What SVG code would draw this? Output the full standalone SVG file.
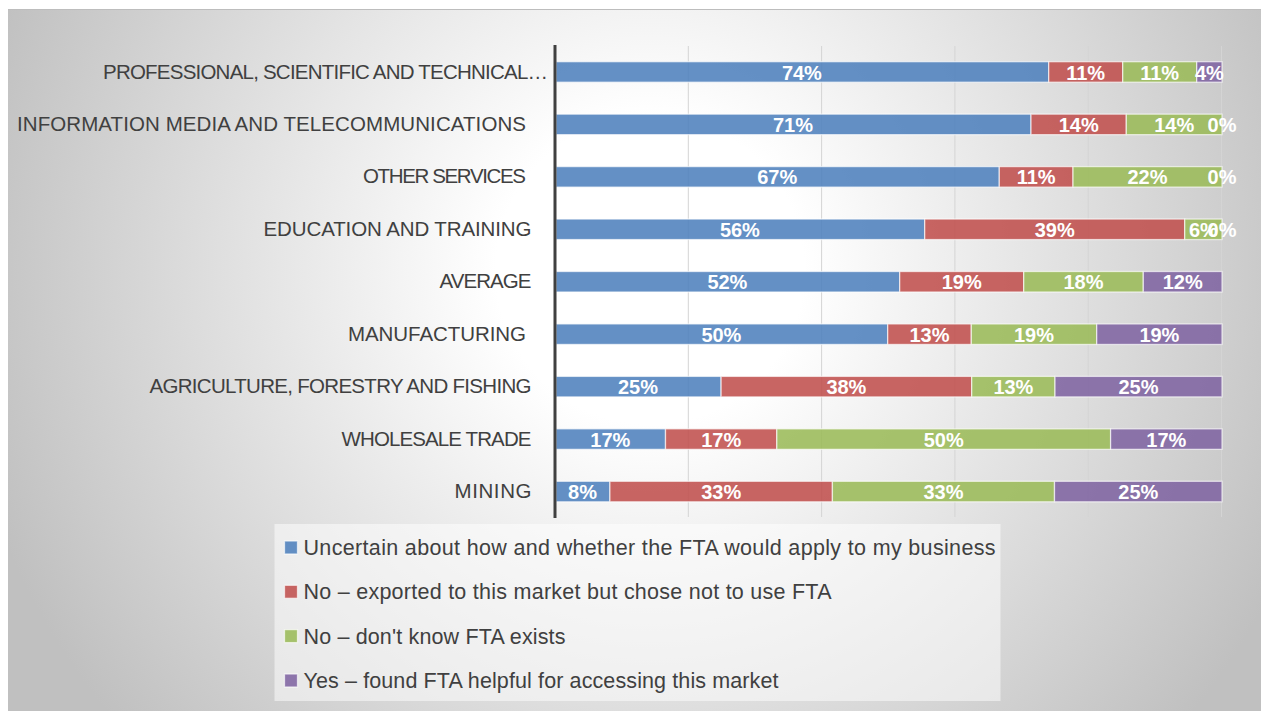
<svg xmlns="http://www.w3.org/2000/svg" width="1261" height="711" viewBox="0 0 1261 711">
<defs>
<radialGradient id="bg" gradientUnits="userSpaceOnUse" cx="650" cy="270" r="700">
<stop offset="0" stop-color="#ffffff"/>
<stop offset="0.22" stop-color="#ffffff"/>
<stop offset="1" stop-color="#c0c0c0"/>
</radialGradient>
<style>
.cat{font-family:"Liberation Sans",Arial,sans-serif;font-size:20.5px;fill:#404040;text-anchor:end}
.val{font-family:"Liberation Sans",Arial,sans-serif;font-size:20px;font-weight:bold;fill:#ffffff;text-anchor:middle}
.leg{font-family:"Liberation Sans",Arial,sans-serif;font-size:21.5px;fill:#404040}
.seg{stroke:#ffffff;stroke-opacity:0.65;stroke-width:1.3;fill-opacity:0.88}
.b{fill:#4f81bd}.r{fill:#c0504d}.g{fill:#9bbb59}.p{fill:#8064a2}
.grid{stroke:#d4d4d4;stroke-width:1}
</style>
</defs>
<rect x="0" y="0" width="1261" height="711" fill="#ffffff"/>
<rect x="8" y="9" width="1253" height="702" fill="url(#bg)"/>
<line x1="8" y1="9.5" x2="1261" y2="9.5" stroke="#bdbdbd" stroke-width="1"/>

<g id="gridlines">
<line class="grid" x1="688.3" y1="46" x2="688.3" y2="517"/>
<line class="grid" x1="821.6" y1="46" x2="821.6" y2="517"/>
<line class="grid" x1="954.9" y1="46" x2="954.9" y2="517"/>
<line class="grid" x1="1088.2" y1="46" x2="1088.2" y2="517"/>
<line class="grid" x1="1221.5" y1="46" x2="1221.5" y2="517"/>
</g>

<g id="row-professional">
<text class="cat" x="548" y="78.5" textLength="445">PROFESSIONAL, SCIENTIFIC AND TECHNICAL…</text>
<rect class="seg b" x="556" y="61.7" width="492.7" height="20.5"/>
<rect class="seg r" x="1048.7" y="61.7" width="74" height="20.5"/>
<rect class="seg g" x="1122.7" y="61.7" width="74" height="20.5"/>
<rect class="seg p" x="1196.7" y="61.7" width="25.3" height="20.5"/>
<text class="val" x="801.9" y="79.5">74%</text>
<text class="val" x="1085.7" y="79.5">11%</text>
<text class="val" x="1159.7" y="79.5">11%</text>
<text class="val" x="1209.4" y="79.5">4%</text>
</g>

<g id="row-information">
<text class="cat" x="526" y="130.9" textLength="509">INFORMATION MEDIA AND TELECOMMUNICATIONS</text>
<rect class="seg b" x="556" y="114.15" width="475" height="20.5"/>
<rect class="seg r" x="1031" y="114.15" width="95.3" height="20.5"/>
<rect class="seg g" x="1126.3" y="114.15" width="95.7" height="20.5"/>
<text class="val" x="793" y="131.9">71%</text>
<text class="val" x="1078.7" y="131.9">14%</text>
<text class="val" x="1174.2" y="131.9">14%</text>
<text class="val" x="1222" y="131.9">0%</text>
</g>

<g id="row-other">
<text class="cat" x="526" y="183.35" textLength="163">OTHER SERVICES</text>
<rect class="seg b" x="556" y="166.6" width="443.3" height="20.5"/>
<rect class="seg r" x="999.3" y="166.6" width="73.7" height="20.5"/>
<rect class="seg g" x="1073" y="166.6" width="149" height="20.5"/>
<text class="val" x="777.2" y="184.35">67%</text>
<text class="val" x="1036.2" y="184.35">11%</text>
<text class="val" x="1147.5" y="184.35">22%</text>
<text class="val" x="1222" y="184.35">0%</text>
</g>

<g id="row-education">
<text class="cat" x="531.5" y="235.8" textLength="268">EDUCATION AND TRAINING</text>
<rect class="seg b" x="556" y="219.05" width="368.7" height="20.5"/>
<rect class="seg r" x="924.7" y="219.05" width="260" height="20.5"/>
<rect class="seg g" x="1184.7" y="219.05" width="37.3" height="20.5"/>
<text class="val" x="739.9" y="236.8">56%</text>
<text class="val" x="1054.7" y="236.8">39%</text>
<text class="val" x="1203.4" y="236.8">6%</text>
<text class="val" x="1222" y="236.8">0%</text>
</g>

<g id="row-average">
<text class="cat" x="531.5" y="288.25" textLength="92">AVERAGE</text>
<rect class="seg b" x="556" y="271.5" width="343.7" height="20.5"/>
<rect class="seg r" x="899.7" y="271.5" width="124" height="20.5"/>
<rect class="seg g" x="1023.7" y="271.5" width="119.6" height="20.5"/>
<rect class="seg p" x="1143.3" y="271.5" width="78.7" height="20.5"/>
<text class="val" x="727.4" y="289.25">52%</text>
<text class="val" x="961.7" y="289.25">19%</text>
<text class="val" x="1083.5" y="289.25">18%</text>
<text class="val" x="1182.7" y="289.25">12%</text>
</g>

<g id="row-manufacturing">
<text class="cat" x="526" y="340.7" textLength="178">MANUFACTURING</text>
<rect class="seg b" x="556" y="323.95" width="331.7" height="20.5"/>
<rect class="seg r" x="887.7" y="323.95" width="83.6" height="20.5"/>
<rect class="seg g" x="971.3" y="323.95" width="125.4" height="20.5"/>
<rect class="seg p" x="1096.7" y="323.95" width="125.3" height="20.5"/>
<text class="val" x="721.4" y="341.7">50%</text>
<text class="val" x="929.5" y="341.7">13%</text>
<text class="val" x="1034" y="341.7">19%</text>
<text class="val" x="1159.4" y="341.7">19%</text>
</g>

<g id="row-agriculture">
<text class="cat" x="531.5" y="393.15" textLength="382">AGRICULTURE, FORESTRY AND FISHING</text>
<rect class="seg b" x="556" y="376.4" width="165.1" height="20.5"/>
<rect class="seg r" x="721.1" y="376.4" width="250.6" height="20.5"/>
<rect class="seg g" x="971.7" y="376.4" width="83.3" height="20.5"/>
<rect class="seg p" x="1055" y="376.4" width="167" height="20.5"/>
<text class="val" x="638" y="394.15">25%</text>
<text class="val" x="846.4" y="394.15">38%</text>
<text class="val" x="1013.4" y="394.15">13%</text>
<text class="val" x="1138.5" y="394.15">25%</text>
</g>

<g id="row-wholesale">
<text class="cat" x="531.5" y="445.6" textLength="190">WHOLESALE TRADE</text>
<rect class="seg b" x="556" y="428.85" width="109.5" height="20.5"/>
<rect class="seg r" x="665.5" y="428.85" width="111.3" height="20.5"/>
<rect class="seg g" x="776.8" y="428.85" width="333.8" height="20.5"/>
<rect class="seg p" x="1110.6" y="428.85" width="111.4" height="20.5"/>
<text class="val" x="610.3" y="446.6">17%</text>
<text class="val" x="721.2" y="446.6">17%</text>
<text class="val" x="943.7" y="446.6">50%</text>
<text class="val" x="1166.3" y="446.6">17%</text>
</g>

<g id="row-mining">
<text class="cat" x="531.5" y="498.05" textLength="77">MINING</text>
<rect class="seg b" x="556" y="481.3" width="53.9" height="20.5"/>
<rect class="seg r" x="609.9" y="481.3" width="222.5" height="20.5"/>
<rect class="seg g" x="832.4" y="481.3" width="222.1" height="20.5"/>
<rect class="seg p" x="1054.5" y="481.3" width="167.5" height="20.5"/>
<text class="val" x="582.5" y="499.05">8%</text>
<text class="val" x="721.2" y="499.05">33%</text>
<text class="val" x="943.5" y="499.05">33%</text>
<text class="val" x="1138.3" y="499.05">25%</text>
</g>

<g id="axis">
<line x1="555" y1="45" x2="555" y2="518" stroke="#404040" stroke-width="3"/>
</g>

<g id="legend">
<rect x="274.5" y="524" width="726" height="177" fill="#ffffff" fill-opacity="0.5"/>
<rect class="seg b" x="284.5" y="541" width="13" height="13"/>
<text class="leg" x="303.5" y="555" textLength="692">Uncertain about how and whether the FTA would apply to my business</text>
<rect class="seg r" x="284.5" y="585.3" width="13" height="13"/>
<text class="leg" x="303.5" y="599.3" textLength="528">No – exported to this market but chose not to use FTA</text>
<rect class="seg g" x="284.5" y="629.6" width="13" height="13"/>
<text class="leg" x="303.5" y="643.6" textLength="262">No – don't know FTA exists</text>
<rect class="seg p" x="284.5" y="674" width="13" height="13"/>
<text class="leg" x="303.5" y="688" textLength="475">Yes – found FTA helpful for accessing this market</text>
</g>
<g id="connectors"/>
</svg>
